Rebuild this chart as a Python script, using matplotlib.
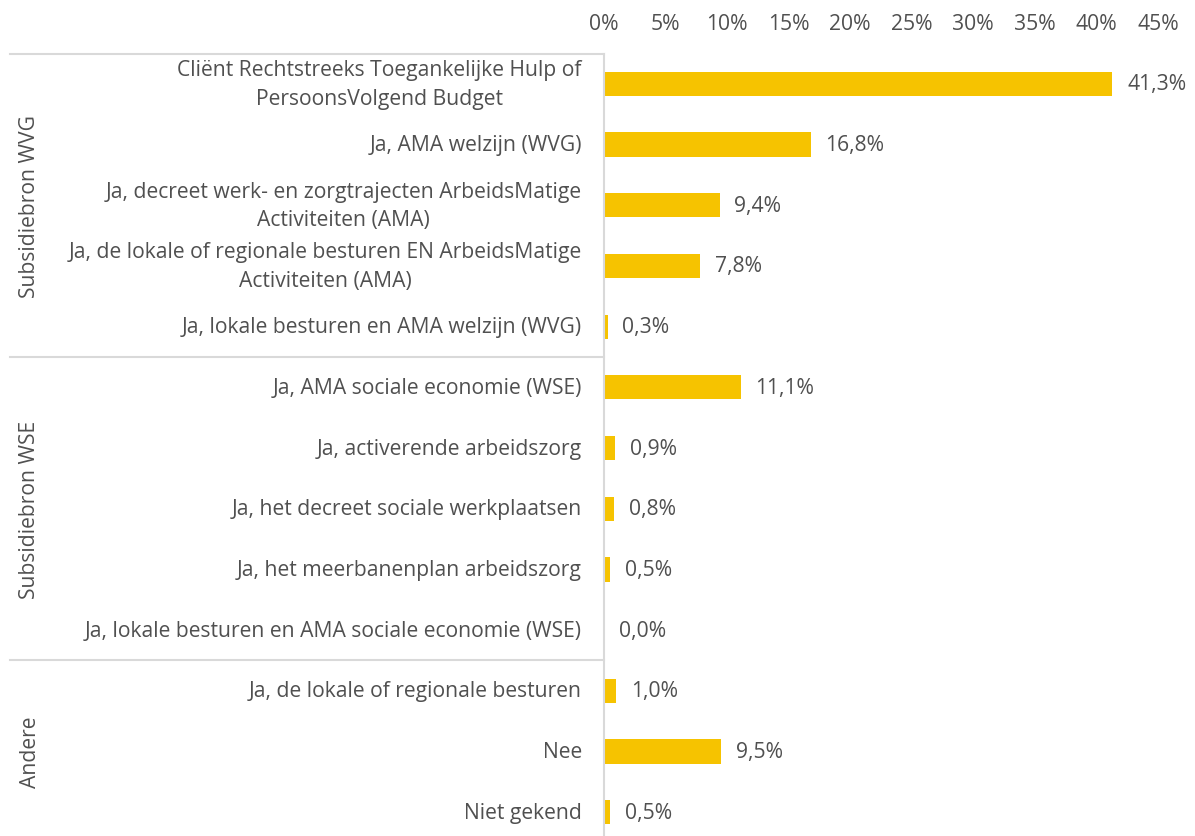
import matplotlib
matplotlib.use('Agg')
import matplotlib.pyplot as plt
from matplotlib.transforms import blended_transform_factory

# data
labels = [
    'Cliënt Rechtstreeks Toegankelijke Hulp of\nPersoonsVolgend Budget',
    'Ja, AMA welzijn (WVG)',
    'Ja, decreet werk- en zorgtrajecten ArbeidsMatige\nActiviteiten (AMA)',
    'Ja, de lokale of regionale besturen EN ArbeidsMatige\nActiviteiten (AMA)',
    'Ja, lokale besturen en AMA welzijn (WVG)',
    'Ja, AMA sociale economie (WSE)',
    'Ja, activerende arbeidszorg',
    'Ja, het decreet sociale werkplaatsen',
    'Ja, het meerbanenplan arbeidszorg',
    'Ja, lokale besturen en AMA sociale economie (WSE)',
    'Ja, de lokale of regionale besturen',
    'Nee',
    'Niet gekend',
]
values = [41.3, 16.8, 9.4, 7.8, 0.3, 11.1, 0.9, 0.8, 0.5, 0.04, 1.0, 9.5, 0.5]
groups = ['Subsidiebron WVG', 'Subsidiebron WSE', 'Andere']
group_sizes = [5, 5, 3]
xticks = [0, 5, 10, 15, 20, 25, 30, 35, 40, 45]

bar_color = '#F6C300'
text_color = '#505050'
grid_color = '#D9D9D9'
fs = 15.2
plt.rcParams['font.family'] = ['Open Sans', 'DejaVu Sans']

fig = plt.figure(figsize=(11.95, 8.37), dpi=100)
ax = fig.add_axes([0.5054, -0.0078, 0.4636, 0.9426])

y = list(range(len(values)))
ax.barh(y, values, height=0.4, color=bar_color)
ax.set_xlim(0, 45)
ax.set_ylim(len(values) - 0.5, -0.5)

ax.xaxis.tick_top()
ax.set_xticks(xticks)
ax.set_xticklabels([f'{t}%' for t in xticks], fontsize=fs, color=text_color)
ax.tick_params(axis='x', length=0, pad=14)
ax.set_yticks([])
for s in ['top', 'right', 'bottom']:
    ax.spines[s].set_visible(False)
ax.spines['left'].set_color(grid_color)
ax.spines['left'].set_linewidth(1.5)

# category labels
for yi, lab in zip(y, labels):
    ax.text(-1.8, yi, lab, ha='right', va='center', multialignment='center',
            fontsize=fs, color=text_color, linespacing=1.45)

# value labels
for yi, v in zip(y, values):
    ax.text(v + 1.2, yi, f'{v:.1f}%'.replace('.', ','), ha='left', va='center',
            fontsize=fs, color=text_color, clip_on=False)

# group separators and labels
tr = blended_transform_factory(fig.transFigure, ax.transData)
start = -0.5
for g, n in zip(groups, group_sizes):
    fig.add_artist(plt.Line2D([10 / 1195, 604 / 1195], [start, start], transform=tr,
                              color=grid_color, linewidth=1.5))
    fig.text(30 / 1195, start + n / 2, g, rotation=90, ha='center', va='center',
             fontsize=fs, color=text_color, transform=tr)
    start += n

fig.savefig('out.png', dpi=100)
